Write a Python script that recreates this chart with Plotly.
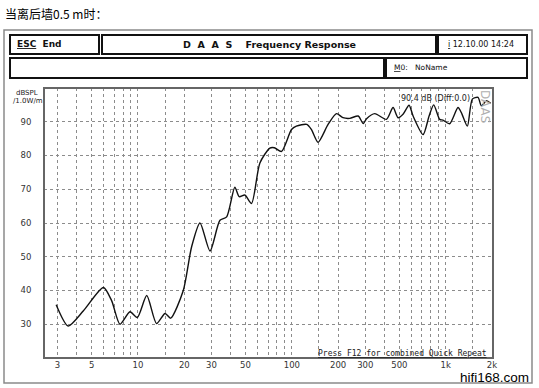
import plotly.graph_objects as go
import math

# ---- data ----
freq_hz = [2.94, 3.52, 4.42, 5.96, 6.74, 7.64, 8.87, 9.9, 11.4, 13.2, 15.0, 16.3,
           19.7, 22.3, 25.3, 29.4, 34.1, 37.7, 42.6, 45.5, 49.5, 54.7, 62, 72,
           77, 85.7, 99.5, 107, 125, 134, 148, 172, 195, 215, 238, 270, 291, 306,
           346, 412, 455, 490, 528, 578, 614, 713, 780, 836, 914, 960, 1061, 1202,
           1264, 1383, 1490, 1622, 1706, 1838, 1960]
spl_db = [35.8, 29.5, 34.0, 40.9, 37.0, 30.0, 33.7, 32.0, 38.5, 30.2, 33.2, 31.8,
          40.0, 52.9, 60.0, 51.7, 60.8, 61.8, 70.6, 67.8, 68.3, 65.8, 77.8, 82.2,
          82.3, 81.2, 87.7, 88.7, 89.2, 87.7, 83.9, 89.2, 92.4, 91.2, 91.0, 91.7, 89.5, 90.9,
          92.4, 90.7, 94.2, 91.2, 92.2, 94.9, 91.7, 86.2, 91.7, 95.0, 90.7, 90.5, 89.4, 94.2,
          92.7, 88.7, 96.7, 97.2, 94.7, 96.2, 95.5]

grid_freqs = [3, 4, 5, 6, 7, 8, 9, 10, 15, 20, 30, 40, 50, 60, 70, 80, 90, 100, 150,
              200, 300, 400, 500, 600, 700, 800, 900, 1000, 1500, 2000]
labelled = {3: "3", 5: "5", 10: "10", 20: "20", 30: "30", 50: "50", 100: "100",
            200: "200", 300: "300", 500: "500", 1000: "1k", 2000: "2k"}
x_ticktext = [labelled.get(f, "") for f in grid_freqs]
y_ticks = [30, 40, 50, 60, 70, 80, 90]

title_cn = "当离后墙0.5 m时："
header_title = "D  A  A  S    Frequency Response"
date_text = "<u>i</u> 12.10.00 14:24"
memo_text = "<u>M</u>0:   NoName"
level_text = "90.4 dB (Diff:0.0)"
footer_text = "Press F12 for combined Quick Repeat"

# ---- layout geometry (pixels) ----
W, H = 539, 388
L, R, T, B = 44, 493, 88, 358


def px(x):
    return (x - L) / (R - L)


def py(y):
    return (B - y) / (B - T)


fig = go.Figure()
fig.add_trace(go.Scatter(x=freq_hz, y=spl_db, mode="lines",
                         line=dict(color="#111111", width=1.4, shape="spline", smoothing=0.7),
                         hoverinfo="skip", showlegend=False))

shapes = []
# outer frame
shapes.append(dict(type="rect", xref="paper", yref="paper", x0=px(4), x1=px(532), y0=py(30), y1=py(383),
                   line=dict(color="#8a8a8a", width=1.5)))
# header boxes
for (x0, x1, y0, y1) in [(10, 99, 35, 54), (102, 436, 35, 54), (438, 527, 35, 54),
                         (10, 384, 58, 78), (386, 527, 58, 78)]:
    shapes.append(dict(type="rect", xref="paper", yref="paper", x0=px(x0), x1=px(x1), y0=py(y0), y1=py(y1),
                       line=dict(color="#111111", width=2)))
# plot border
shapes.append(dict(type="rect", xref="paper", yref="paper", x0=0, x1=1, y0=0, y1=1,
                   line=dict(color="#666666", width=2)))

ann = []
mono = "DejaVu Sans Mono"
sans = "DejaVu Sans"
ann.append(dict(text=title_cn, x=px(3), y=py(14), xanchor="left", yanchor="middle",
                font=dict(family="Noto Sans CJK SC", size=12, color="#000")))
ann.append(dict(text="<b><u>ESC</u>  End</b>", x=px(15), y=py(44.5), xanchor="left", yanchor="middle",
                font=dict(family=sans, size=9, color="#111")))
ann.append(dict(text="<b>" + header_title + "</b>", x=px(269), y=py(44.5), xanchor="center", yanchor="middle",
                font=dict(family=sans, size=9.5, color="#111")))
ann.append(dict(text=date_text, x=px(446), y=py(44.5), xanchor="left", yanchor="middle",
                font=dict(family=sans, size=8, color="#111")))
ann.append(dict(text=memo_text, x=px(392), y=py(68), xanchor="left", yanchor="middle",
                font=dict(family=sans, size=7.5, color="#111")))
ann.append(dict(text="dBSPL", x=px(40), y=py(92.5), xanchor="right", yanchor="middle",
                font=dict(family=sans, size=7, color="#222")))
ann.append(dict(text="/1.0W/m", x=px(45), y=py(100.5), xanchor="right", yanchor="middle",
                font=dict(family=sans, size=7, color="#222")))
ann.append(dict(text=level_text, x=px(472), y=py(98), xanchor="right", yanchor="middle",
                font=dict(family=sans, size=8, color="#222")))
ann.append(dict(text="DAAS", x=px(485), y=py(106), xanchor="center", yanchor="middle", textangle=90,
                font=dict(family=sans, size=12, color="#b0b0b0")))
ann.append(dict(text="<u>" + footer_text + "</u>", x=px(489), y=py(353), xanchor="right", yanchor="middle",
                font=dict(family=mono, size=8, color="#222")))
ann.append(dict(text="hifi168.com", x=px(531), y=py(378), xanchor="right", yanchor="middle",
                font=dict(family="Liberation Sans", size=13.5, color="#000")))
for a in ann:
    a.update(xref="paper", yref="paper", showarrow=False)

fig.update_layout(
    width=W, height=H,
    margin=dict(l=L, r=W - R, t=T, b=H - B, pad=0),
    paper_bgcolor="white", plot_bgcolor="white",
    shapes=shapes, annotations=ann, showlegend=False,
    xaxis=dict(type="log", range=[math.log10(2.45), math.log10(2030)],
               tickvals=grid_freqs, ticktext=x_ticktext,
               showgrid=True, gridcolor="#8c8c8c", griddash="dot", gridwidth=1,
               ticks="",
               tickfont=dict(family=sans, size=8.5, color="#333"),
               zeroline=False, showline=False, fixedrange=True),
    yaxis=dict(range=[20, 100], tickvals=y_ticks,
               showgrid=True, gridcolor="#8c8c8c", griddash="dot", gridwidth=1,
               ticks="outside", ticklen=10, tickcolor="rgba(0,0,0,0)",
               tickfont=dict(family=sans, size=8.5, color="#333"),
               zeroline=False, showline=False, fixedrange=True),
)

fig.write_html("out.html", config={"displayModeBar": False},
               post_script="document.body.style.margin='0';document.body.style.overflow='hidden';")
